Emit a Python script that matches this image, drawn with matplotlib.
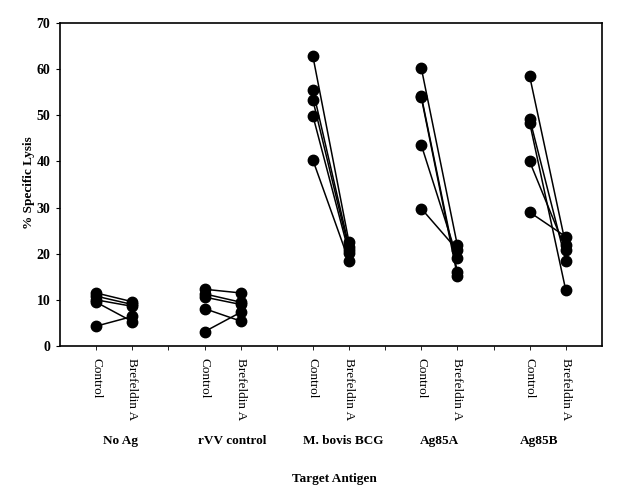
import matplotlib
matplotlib.use('Agg')
import matplotlib.pyplot as plt

plt.rcParams['font.family'] = ['Liberation Serif', 'DejaVu Serif']

groups = ['No Ag', 'rVV control', 'M. bovis BCG', 'Ag85A', 'Ag85B']
conditions = ['Control', 'Brefeldin A']

# % specific lysis per donor (5 donors), control vs brefeldin A
control = {
    'No Ag':        [11.5, 10.8, 10.0, 9.5, 4.3],
    'rVV control':  [12.3, 11.3, 10.6, 8.1, 3.1],
    'M. bovis BCG': [62.8, 55.5, 53.3, 49.9, 40.3],
    'Ag85A':        [60.3, 54.2, 53.9, 43.6, 29.8],
    'Ag85B':        [58.5, 49.3, 48.4, 40.0, 29.0],
}
brefeldin = {
    'No Ag':        [9.6, 9.0, 8.6, 5.3, 6.4],
    'rVV control':  [11.5, 9.5, 9.0, 5.4, 7.3],
    'M. bovis BCG': [22.5, 21.5, 20.8, 20.1, 18.4],
    'Ag85A':        [21.8, 16.0, 15.2, 19.0, 20.8],
    'Ag85B':        [21.9, 18.5, 12.1, 20.9, 23.7],
}
group_label_x = [1.68, 4.76, 7.84, 10.5, 13.25]

fig = plt.figure(figsize=(6.2, 4.93), dpi=100)
ax = fig.add_axes([0.0968, 0.2982, 0.874, 0.655])

ticks = []
ticklabels = []
for i, g in enumerate(groups):
    xc = 1 + 3 * i
    xb = xc + 1
    for c, b in zip(control[g], brefeldin[g]):
        ax.plot([xc, xb], [c, b], color='black', lw=1.1, marker='o',
                markersize=7.5, markerfacecolor='black', markeredgecolor='black')
    ticks += [xc, xb]
    ticklabels += conditions
    if i < len(groups) - 1:
        ticks.append(xb + 1)
        ticklabels.append('')

ax.set_xlim(0, 15)
ax.set_ylim(0, 70)
ax.set_yticks(range(0, 71, 10))
ax.set_yticklabels([str(v) for v in range(0, 71, 10)], fontweight='bold', fontsize=10)
ax.set_xticks(ticks)
ax.set_xticklabels(ticklabels, rotation=270, fontsize=9.5)
ax.tick_params(axis='x', length=3, width=0.6, pad=6)
ax.tick_params(axis='y', length=3, width=0.8, pad=4)
for s in ax.spines.values():
    s.set_linewidth(1.2)

ax.set_ylabel('% Specific Lysis', fontweight='bold', fontsize=9.5)
ax.yaxis.set_label_coords(-0.047, 0.505)

for g, x in zip(groups, group_label_x):
    ax.text(x, -20.5, g, ha='center', va='center', fontweight='bold', fontsize=9.5)
ax.text(7.6, -28.8, 'Target Antigen', ha='center', va='center', fontweight='bold', fontsize=9.5)

fig.savefig('out.png', dpi=100)
